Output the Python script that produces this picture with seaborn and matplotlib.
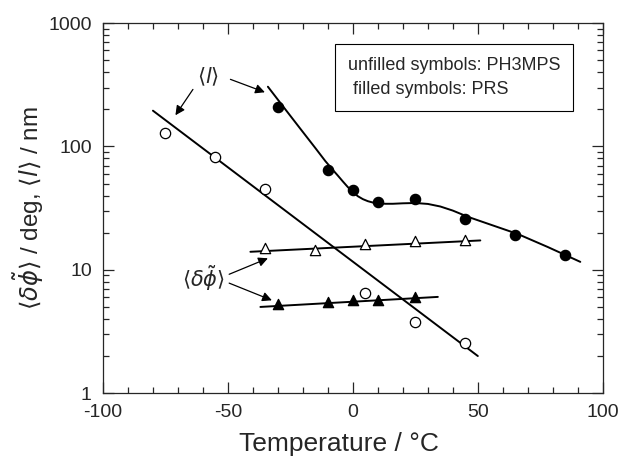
import numpy as np
import pandas as pd
import matplotlib
matplotlib.use("Agg")
import matplotlib.pyplot as plt
import seaborn as sns
from matplotlib.ticker import FixedLocator, LogLocator, NullFormatter, FixedFormatter

# ---- data ----
# PH3MPS <l> (open circles)
ph_l_T = [-75, -55, -35, 5, 25, 45]
ph_l_v = [128, 81.5, 45.6, 6.5, 3.76, 2.57]
ph_l_fit_T = [-80, 50]
ph_l_fit_v = [195, 2.0]

# PRS <l> (filled circles)
prs_l_T = [-30, -10, 0, 10, 25, 45, 65, 85]
prs_l_v = [207, 65, 44.2, 35.6, 37.2, 25.6, 19.1, 13.3]
prs_l_fit_T = [-34, -28, -21, -15, -11, -8, -6, -4, -2, 0, 2, 4, 6, 8, 10, 13, 16, 20,
               25, 30, 35, 40, 46, 56, 66, 78, 91]
prs_l_fit_v = [305, 212, 139, 97, 76, 64.5, 58, 52, 46.8, 42.6, 39.5, 37.4, 36.0, 35.1,
               34.6, 34.3, 34.3, 34.6, 34.8, 34.2, 32.6, 30.2, 26.9, 22.9, 19.5, 15.3, 11.6]

# PH3MPS <dphi> (open triangles)
ph_d_T = [-35, -15, 5, 25, 45]
ph_d_v = [14.9, 14.4, 16.1, 17.1, 17.6]
ph_d_fit_T = [-41, 51]
ph_d_fit_v = [14.0, 17.3]

# PRS <dphi> (filled triangles)
prs_d_T = [-30, -10, 0, 10, 25]
prs_d_v = [5.26, 5.5, 5.64, 5.74, 6.03]
prs_d_fit_T = [-37, 34]
prs_d_fit_v = [5.0, 6.03]

x_ticks = [-100, -50, 0, 50, 100]
y_ticks = [1, 10, 100, 1000]
y_ticklabels = ["1", "10", "100", "1000"]

sns.set_style("ticks")
plt.rcParams['font.family'] = ['Liberation Sans', 'DejaVu Sans']
plt.rcParams['mathtext.fontset'] = 'dejavusans'
plt.rcParams['axes.unicode_minus'] = False

fig = plt.figure(figsize=(6.24, 4.62), dpi=100)
ax = fig.add_axes([0.165, 0.149, 0.801, 0.801])

def df(T, v):
    return pd.DataFrame({"T": T, "v": v})

lw = 1.4
for T, v in [(ph_l_fit_T, ph_l_fit_v), (prs_l_fit_T, prs_l_fit_v),
             (ph_d_fit_T, ph_d_fit_v), (prs_d_fit_T, prs_d_fit_v)]:
    sns.lineplot(data=df(T, v), x="T", y="v", ax=ax, color="black", lw=lw,
                 sort=False, estimator=None, zorder=2)

ms = 55
sns.scatterplot(data=df(ph_l_T, ph_l_v), x="T", y="v", ax=ax, marker="o", s=ms,
                facecolor="white", edgecolor="black", linewidth=0.9, zorder=3)
sns.scatterplot(data=df(prs_l_T, prs_l_v), x="T", y="v", ax=ax, marker="o", s=ms,
                color="black", edgecolor="black", linewidth=0.9, zorder=3)
sns.scatterplot(data=df(ph_d_T, ph_d_v), x="T", y="v", ax=ax, marker="^", s=ms,
                facecolor="white", edgecolor="black", linewidth=0.9, zorder=3)
sns.scatterplot(data=df(prs_d_T, prs_d_v), x="T", y="v", ax=ax, marker="^", s=ms,
                color="black", edgecolor="black", linewidth=0.9, zorder=3)

ax.set_yscale("log")
ax.set_xlim(-100, 100)
ax.set_ylim(1, 1000)
ax.xaxis.set_major_locator(FixedLocator(x_ticks))
ax.xaxis.set_minor_locator(FixedLocator(np.arange(-100, 101, 10)))
ax.yaxis.set_major_locator(FixedLocator(y_ticks))
ax.yaxis.set_major_formatter(FixedFormatter(y_ticklabels))
ax.yaxis.set_minor_locator(LogLocator(base=10, subs=np.arange(2, 10)))
ax.yaxis.set_minor_formatter(NullFormatter())
ax.tick_params(which="both", direction="in", top=True, right=True, width=0.9, labelsize=14, pad=8)
ax.tick_params(which="major", length=8)
ax.tick_params(which="minor", length=4)
for s in ax.spines.values():
    s.set_linewidth(0.9)

ax.set_xlabel("Temperature / °C", fontsize=19)
ax.xaxis.set_label_coords(0.473, -0.105)
ax.set_ylabel(r"$\langle\delta\tilde{\phi}\rangle$ / deg, $\langle l\rangle$ / nm", fontsize=17.5, labelpad=2)

# legend-like box
ax.text(0.49, 0.853, "unfilled symbols: PH3MPS\n filled symbols: PRS", transform=ax.transAxes,
        fontsize=13, va="center", ha="left", linespacing=1.6,
        bbox=dict(boxstyle="square,pad=0.7", facecolor="white", edgecolor="black", linewidth=0.8))

# annotations
arrow = dict(arrowstyle="-|>", color="black", lw=0.9, mutation_scale=14, shrinkA=0, shrinkB=0)
ax.text(-58, 365, r"$\langle l\rangle$", fontsize=15, ha="center", va="center")
ax.annotate("", xy=(-71, 179), xytext=(-64, 290), arrowprops=arrow)
ax.annotate("", xy=(-35.2, 275), xytext=(-49, 350), arrowprops=arrow)
ax.text(-59.6, 8.55, r"$\langle\delta\tilde{\phi}\rangle$", fontsize=15, ha="center", va="center")
ax.annotate("", xy=(-34, 12.4), xytext=(-49.5, 9.2), arrowprops=arrow)
ax.annotate("", xy=(-32.4, 5.66), xytext=(-49.5, 7.8), arrowprops=arrow)

fig.savefig("out.png", dpi=100)
